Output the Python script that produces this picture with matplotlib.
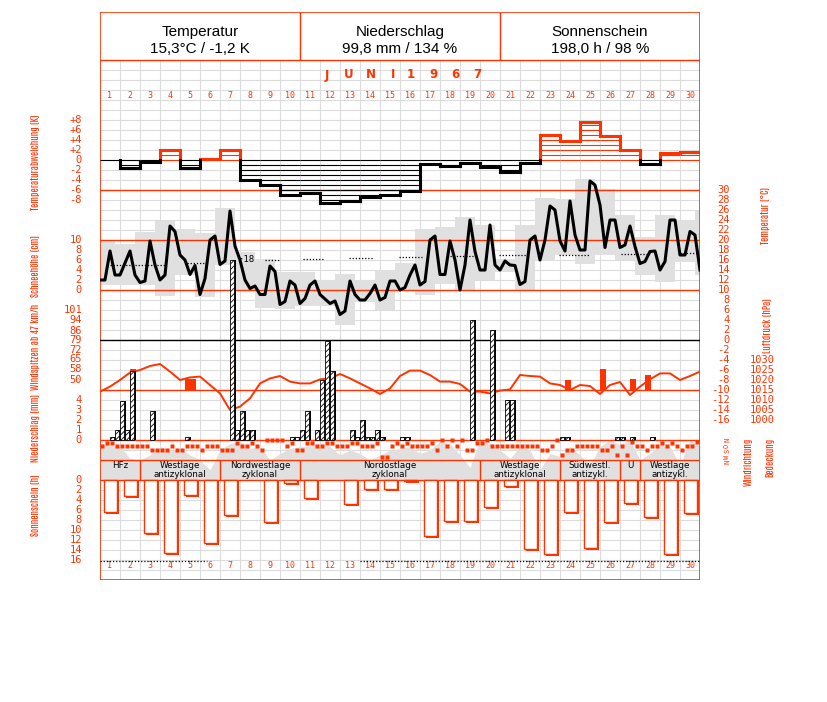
import numpy as np
import matplotlib
matplotlib.use('Agg')
import matplotlib.pyplot as plt
from matplotlib.patches import Rectangle

# colours of the station chart
RED = '#ff3300'
GRID = '#dcdcdc'
SHADE = '#e0e0e0'

W, H = 827, 702          # picture size in pixels
MONO = 'DejaVu Sans Mono'
NARROW = ['Antonio', 'Roboto Condensed', 'DejaVu Sans']

plt.rcParams['font.family'] = ['DejaVu Sans']
plt.rcParams['hatch.linewidth'] = 0.6

days = np.arange(1, 31)

# monthly summary (header)
header_titles = ['Temperatur', 'Niederschlag', 'Sonnenschein']
header_values = ['15,3°C / -1,2 K', '99,8 mm / 134 %', '198,0 h / 98 %']
month_title = ['JUNI', '1967']

# daily temperature deviation (K)
temp_dev = [0.0, -1.6, -0.3, 2.0, -1.5, 0.3, 2.1, -3.9, -4.9, -6.9,
            -6.6, -8.5, -8.2, -7.3, -6.9, -6.2, -0.7, -1.1, -0.5, -1.3,
            -2.4, -0.5, 5.0, 3.8, 7.7, 4.9, 2.1, -0.7, 1.5, 1.6]

# air temperature, 4 readings per day (°C)
temp_6h = [12.0, 12.0, 17.8, 13.0, 13.0, 15.4, 17.8, 13.0,
           11.5, 11.8, 19.8, 15.0, 12.0, 13.0, 22.8, 21.7,
           17.0, 16.0, 13.1, 14.9, 9.1, 12.3, 20.0, 20.8,
           15.1, 15.8, 25.8, 18.8, 16.0, 12.0, 10.3, 10.8,
           9.1, 9.1, 14.8, 13.7, 7.1, 7.7, 11.8, 11.0,
           7.3, 8.3, 11.0, 11.8, 9.1, 8.2, 7.3, 7.8,
           5.1, 5.8, 11.8, 9.1, 8.0, 8.0, 9.3, 11.0,
           8.0, 8.5, 11.8, 11.8, 10.0, 10.5, 13.0, 15.0,
           11.0, 11.7, 20.0, 20.8, 13.1, 13.1, 19.8, 16.0,
           10.0, 15.0, 24.0, 17.7, 14.0, 14.0, 23.0, 15.0,
           14.0, 15.8, 15.0, 14.9, 11.1, 11.7, 20.0, 20.8,
           16.0, 20.0, 26.8, 26.0, 19.8, 17.8, 27.8, 21.0,
           18.0, 18.0, 31.8, 31.0, 27.0, 18.5, 24.0, 24.0,
           18.5, 19.0, 22.8, 18.7, 15.3, 15.7, 17.7, 17.8,
           14.0, 15.7, 24.0, 24.0, 17.0, 17.0, 21.7, 21.0,
           14.0]

# daily extremes (°C), boxes run from 18 h to 18 h
box_max = [19.8, 19.3, 21.7, 23.8, 22.2, 21.3, 26.5, 17.7, 16.3, 13.7, 13.7,
           12.0, 13.3, 12.0, 14.1, 15.5, 22.2, 22.7, 24.7, 23.1, 16.2, 23.0,
           28.5, 28.3, 32.2, 30.3, 25.0, 20.7, 25.1, 24.0, 25.8]
box_min = [11.1, 11.0, 11.0, 8.9, 13.0, 8.7, 15.1, 10.0, 6.5, 6.3, 6.9,
           6.9, 3.1, 7.7, 6.0, 10.0, 9.0, 11.3, 9.8, 12.0, 13.7, 10.0,
           15.8, 17.0, 15.3, 17.1, 16.0, 13.1, 11.7, 15.7, 13.1]

# long-term mean temperature, dotted pieces (day from, day to, °C)
norm_from = [0.5, 4.35, 8.25, 10.15, 12.45, 14.95, 17.5, 19.95, 22.95, 26.05, 29.0]
norm_to = [3.25, 5.35, 9.0, 11.2, 13.7, 16.1, 18.65, 21.3, 24.5, 27.4, 29.9]
norm_temp = [15.1, 15.5, 16.0, 16.2, 16.5, 16.7, 16.8, 17.0, 17.1, 17.3, 17.5]

# air pressure every 12 h (hPa)
pressure = [1014.2, 1016.7, 1020.0, 1023.7, 1025.0, 1027.0, 1028.0, 1024.2,
            1020.0, 1021.3, 1021.7, 1017.5, 1013.3, 1005.0, 1006.7, 1010.8,
            1018.3, 1020.8, 1022.0, 1019.2, 1018.3, 1018.3, 1020.3, 1020.8,
            1023.0, 1020.8, 1018.3, 1015.8, 1013.0, 1015.8, 1022.0,
            1024.7, 1024.7, 1022.5, 1019.2, 1019.2, 1018.0, 1014.2, 1014.2,
            1013.3, 1014.7, 1015.3, 1022.5, 1022.0, 1021.7, 1018.3, 1017.5,
            1015.0, 1017.5, 1017.0, 1013.0, 1017.5, 1019.0, 1012.5, 1016.7,
            1020.3, 1023.3, 1023.3, 1020.0, 1022.0, 1024.2]

# wind gusts from 47 km/h (6-h slot, km/h)
gust_slot = [6, 17, 18, 26, 93, 100, 106, 109]
gust_kmh = [58, 51, 51, 65, 50, 58, 51, 54]

# precipitation (6-h slot, mm)
rain_slot = [2, 3, 4, 5, 6, 10, 17, 26, 27, 28, 29, 30, 38, 39, 40, 41, 43,
             44, 45, 46, 50, 51, 52, 53, 54, 55, 56, 60, 61, 74, 78, 81, 82,
             92, 93, 103, 104, 106, 110]
rain_mm = [0.3, 1.0, 3.9, 1.0, 6.9, 2.9, 0.3, 18.0, 1.0, 2.9, 1.0, 1.0, 0.3,
           0.3, 1.0, 2.9, 1.0, 6.0, 9.9, 6.9, 1.0, 0.3, 2.0, 0.3, 0.3, 1.0,
           0.3, 0.3, 0.3, 12.0, 11.0, 4.0, 4.0, 0.3, 0.3, 0.3, 0.3, 0.3, 0.3]

# wind direction every 6 h (degrees)
wind_dir = [90, 45, 45, 90, 90, 90, 90, 90, 90, 90, 160, 160, 160, 160, 90,
            160, 160, 90, 90, 90, 160, 90, 90, 90, 160, 160, 160, 45, 90, 90,
            45, 90, 160, 0, 0, 0, 0, 90, 45, 160, 160, 45, 45, 90, 90,
            45, 45, 90, 90, 90, 45, 45, 90, 90, 90, 45, 285, 285, 90, 45,
            90, 45, 90, 90, 90, 90, 45, 160, 0, 90, 0, 90, 0, 160, 160,
            45, 45, 0, 90, 90, 90, 90, 90, 90, 90, 90, 90, 90, 160, 160,
            90, 0, 245, 160, 160, 90, 90, 90, 90, 90, 160, 160, 90, 245, 90,
            245, 30, 90, 90, 160, 90, 90, 45, 90, 45, 90, 160, 90, 90, 30]

# cloud cover every 12 h (octas)
cloud = [7.3, 7.0, 6.7, 4.3, 4.0, 5.0, 6.7, 6.0, 6.3, 5.0, 4.0, 2.0, 6.0,
         7.3, 7.7, 6.3, 6.7, 4.0, 5.3, 6.3, 6.7, 6.8, 7.3, 6.7, 5.0, 6.0,
         5.3, 4.0, 5.0, 6.0, 6.3,
         6.7, 5.3, 6.0, 7.7, 7.3, 5.0, 2.5, 8.0, 7.3, 6.0, 4.3, 6.7, 6.0,
         2.0, 5.3, 4.7, 6.7, 5.0, 3.0, 6.7, 8.0, 7.0, 8.0, 4.0, 5.3, 7.0,
         6.7, 3.0, 8.0, 6.7]

# sunshine duration (h)
sunshine = [6.3, 3.2, 10.6, 14.5, 3.0, 12.5, 7.0, 0.0, 8.3, 0.5,
            3.5, 0.0, 4.8, 1.7, 1.7, 0.2, 11.1, 8.1, 8.1, 5.3,
            1.1, 13.7, 14.7, 6.4, 13.5, 8.4, 4.5, 7.4, 14.7, 6.5]
sun_line_from = [0, 13]
sun_line_to = [5.35, 30]
sun_line_h = 16.2

# weather types (Großwetterlagen)
wt_start = [0, 2, 6, 10, 19, 23, 26, 27]
wt_end = [2, 6, 10, 19, 23, 26, 27, 30]
wt_label = ['HFz', 'Westlage\nantizyklonal', 'Nordwestlage\nzyklonal',
            'Nordostlage\nzyklonal', 'Westlage\nantizyklonal',
            'Südwestl.\nantizykl.', 'U', 'Westlage\nantizykl.']

fig = plt.figure(figsize=(W / 100, H / 100), dpi=100)


def add_layer(v_ref=None, y_ref=None, ppu=None):
    # one transparent axes over the chart frame (x 100-700, y 12-580 px)
    ax = fig.add_axes([100 / W, 1 - 580 / H, 600 / W, 568 / H])
    ax.set_xlim(0, 30)
    if v_ref is None:
        ax.set_ylim(580, 12)      # pixel rows
    else:
        ax.set_ylim(v_ref - (580 - y_ref) / ppu, v_ref + (y_ref - 12) / ppu)
    ax.axis('off')
    ax.patch.set_alpha(0)
    return ax


# background grid
base = add_layer()
base.vlines(np.arange(31), 60, 580, color=GRID, lw=0.8)
base.hlines(np.arange(70, 580, 10), 0, 30, color=GRID, lw=0.8)
base.add_patch(Rectangle((0, 440), 30, 40, color='white', lw=0))

# cloud cover
cl = add_layer(0, 480, 5)
cl.fill_between(np.arange(len(cloud)) * 0.5, 0, cloud, color=SHADE, lw=0)

# temperature boxes and normal
tp = add_layer(20, 240, 5)
bmax = np.array(box_max)
bmin = np.array(box_min)
tp.bar(np.arange(len(bmax)) - 0.25, bmax - bmin, bottom=bmin, width=1,
       align='edge', color=SHADE, lw=0)
for a, b, v in zip(norm_from, norm_to, norm_temp):
    tp.plot([a, b], [v, v], color='black', lw=0.9, ls=(0, (1, 1.5)))

# frame and panel lines
ov = add_layer()
ov.hlines([60, 190, 240, 290, 390, 440, 460, 480], 0, 30, color=RED, lw=1)
ov.vlines([10, 20], 12, 60, color=RED, lw=1)
ov.vlines(wt_start[1:], 460, 480, color=RED, lw=1)
ov.add_patch(Rectangle((0, 12), 30, 568, fill=False, ec=RED, lw=1.2))

# temperature deviation steps with hatching
dv = add_layer(0, 160, 5)
for i, v in enumerate(temp_dev):
    col = RED if v > 0 else 'black'
    sgn = 1 if v > 0 else -1
    dv.hlines(sgn * np.arange(0, int(abs(v)) + 1), i, i + 1, color=col, lw=0.8)
    if v != 0:
        dv.plot([i, i + 1], [v, v], color=col, lw=2.2, solid_capstyle='projecting')
for i in range(1, len(temp_dev)):
    lo, hi = sorted([temp_dev[i - 1], temp_dev[i]])
    if hi > 0:
        dv.plot([i, i], [max(lo, 0), hi], color=RED, lw=2.2)
    if lo < 0:
        dv.plot([i, i], [lo, min(hi, 0)], color='black', lw=2.2)

# pressure
pr = add_layer(1030, 360, 2)
pr.plot(np.arange(len(pressure)) * 0.5, pressure, color=RED, lw=1.4)

# wind gusts (scale: 50 km/h at 380 px, 7.29 km/h per 10 px)
wd = add_layer(50, 380, 10 / 7.29)
gust_base = 50 - 7.29
wd.axhline(79, color='black', lw=1)
wd.bar(np.array(gust_slot) * 0.25, np.array(gust_kmh) - gust_base, bottom=gust_base,
       width=0.3, align='edge', color=RED, lw=0)

# precipitation
pc = add_layer(0, 440, 10)
rx = np.array(rain_slot) * 0.25
pc.bar(rx + 0.1, rain_mm, width=0.2, align='edge', color='black', lw=0)
pc.bar(rx, rain_mm, width=0.2, align='edge', facecolor='white',
       edgecolor='black', hatch='//////', lw=0.6)
top = int(np.argmax(rain_mm))
pc.text(rx[top] + 0.45, rain_mm[top], '·18', fontsize=6.5, va='center', family=MONO)

# wind direction
wr = add_layer(0, 440, -22 / 360)
wr.plot(np.arange(len(wind_dir)) * 0.25 + 0.1, wind_dir, 's', ms=2.2,
        color=RED, mec='none')

# temperature curve
tc = add_layer(20, 240, 5)
tc.plot(np.arange(len(temp_6h)) * 0.25, temp_6h, color='black', lw=2.2)

# sunshine
sn = add_layer(0, 480, -5)
sun = np.array(sunshine)
has = sun > 0
sn.bar(days[has] - 1 + 0.3, sun[has] + 0.4, width=0.65, align='edge', color=RED, lw=0)
sn.bar(days[has] - 1 + 0.2, sun[has], width=0.65, align='edge',
       facecolor='white', edgecolor=RED, lw=1)
for a, b in zip(sun_line_from, sun_line_to):
    sn.plot([a, b], [sun_line_h, sun_line_h], color='black', lw=0.9, ls=(0, (1, 1.5)))

# header
for i, (t, v) in enumerate(zip(header_titles, header_values)):
    ov.text(i * 10 + 5, 32, t, ha='center', va='center', fontsize=11,
            family='Liberation Sans')
    ov.text(i * 10 + 5, 49, v, ha='center', va='center', fontsize=11,
            family='Liberation Sans')
# month title, widely spaced letters
for w, word in enumerate(month_title):
    for j, ch in enumerate(word):
        ov.text(11.35 + 4.2 * w + 1.1 * j, 75, ch, ha='center', va='center',
                color=RED, fontsize=8.5, fontweight='bold')
for d in days:
    for y in (95, 566):
        ov.text(d - 0.5, y, str(d), ha='center', va='center', color=RED,
                fontsize=6, family=MONO)

# weather type labels
for a, b, lab in zip(wt_start, wt_end, wt_label):
    ov.text((a + b) / 2, 461.5, lab, ha='center', va='top', fontsize=6.3,
            linespacing=0.95)

# left scales
lab_kw = dict(ha='right', va='center', color=RED, fontsize=7.5, family=MONO)
for v in [8, 6, 4, 2, 0, -2, -4, -6, -8]:
    dv.text(-0.9, v, f'{v:+d}' if v else '0', **lab_kw)
sw = add_layer(0, 290, 5)
for v in range(0, 11, 2):
    sw.text(-0.9, v, str(v), **lab_kw)
for v in [101, 94, 86, 79, 72, 65, 58, 50]:
    wd.text(-0.9, v, str(v), **lab_kw)
for v in range(0, 5):
    pc.text(-0.9, v, str(v), **lab_kw)
for v in range(0, 17, 2):
    sn.text(-0.9, v, str(v), **lab_kw)

# right scales
for v in range(30, -17, -2):
    tp.text(31.5, v, str(v) if v >= 0 else f'-{abs(v)}', **lab_kw)
for v in range(1030, 999, -5):
    pr.text(33.75, v, str(v), **lab_kw)
for v, s in zip([0, 90, 180, 270, 360], 'NOSWN'):
    wr.text(31.35, v, s, ha='center', va='center', color=RED, fontsize=5,
            rotation=90, family=MONO)

# axis titles
title_kw = dict(ha='center', va='center', color=RED, fontsize=7, rotation=90,
                family=NARROW)
ov.text(-3.25, 162, 'Temperaturabweichung (K)', **title_kw)
ov.text(-3.25, 266, 'Schneehöhe (cm)', **title_kw)
ov.text(-3.25, 347, 'Windspitzen ab 47 km/h', **title_kw)
ov.text(-3.25, 428, 'Niederschlag (mm)', **title_kw)
ov.text(-3.25, 505, 'Sonnenschein (h)', **title_kw)
ov.text(33.3, 215, 'Temperatur (°C)', **title_kw)
ov.text(33.4, 326, 'Luftdruck (hPa)', **title_kw)
ov.text(32.4, 462, 'Windrichtung', **title_kw)
ov.text(33.5, 457, 'Bedeckung', **title_kw)

fig.savefig('out.png', dpi=100)
